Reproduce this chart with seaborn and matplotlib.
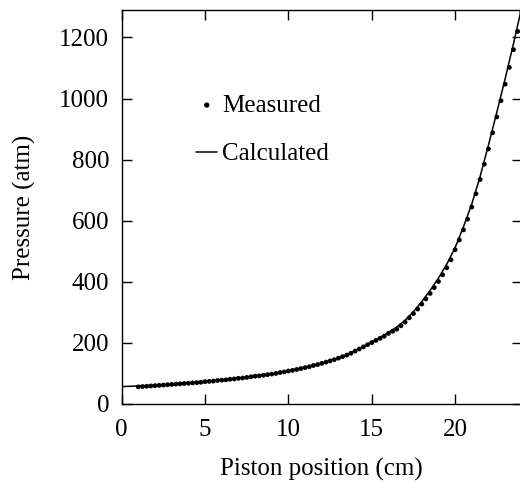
import numpy as np
import pandas as pd
import seaborn as sns
import matplotlib.pyplot as plt

sns.set_theme(style="ticks")
plt.rcParams['font.family'] = ['Liberation Serif', 'DejaVu Serif']
plt.rcParams['text.color'] = 'black'
plt.rcParams['axes.labelcolor'] = 'black'

# measured points (cm, atm), every 0.25 cm
meas_x = np.arange(1.0, 24.01, 0.25)
meas_p = [56, 57, 58, 59, 60, 61, 62, 63, 64, 65, 66, 67, 68, 69, 70, 71,
          73, 74, 75, 77, 78, 79, 81, 82, 84, 85, 87, 89, 91, 92, 94, 96,
          98, 100, 103, 105, 108, 110, 113, 116, 119, 122, 126, 129, 133, 137, 141, 145,
          150, 155, 160, 166, 173, 180, 187, 194, 201, 208, 215, 222, 231, 238, 245, 256,
          268, 282, 296, 311, 327, 344, 362, 381, 401, 423, 446, 472, 505, 537, 570, 605,
          645, 688, 735, 785, 835, 888, 940, 993, 1047, 1102, 1160, 1220, 1282]

# calculated curve, every 0.5 cm
calc_x = np.arange(0.0, 24.01, 0.5)
calc_p = [57, 58, 59, 60, 61, 63, 65, 67, 69, 71, 74, 76, 79, 82, 85, 88,
          92, 95, 99, 104, 109, 114, 120, 127, 134, 142, 151, 162, 174, 188, 203, 218,
          234, 252, 274, 302, 335, 372, 412, 458, 512, 580, 655, 745, 848, 955, 1065, 1180,
          1300]

meas = pd.DataFrame({'x': meas_x, 'p': meas_p})
calc = pd.DataFrame({'x': calc_x, 'p': calc_p})

fig = plt.figure(figsize=(5.2, 4.83), dpi=100)
ax = fig.add_axes([0.234, 0.1636, 0.7695, 0.8157])

sns.scatterplot(data=meas, x='x', y='p', ax=ax, color='black', s=12,
                edgecolor='none', label='Measured', zorder=3)
sns.lineplot(data=calc, x='x', y='p', ax=ax, color='black', linewidth=1.1,
             label='Calculated', zorder=2)

ax.set_xlim(0, 24)
ax.set_ylim(0, 1290)
ax.set_xticks([0, 5, 10, 15, 20])
ax.set_yticks([0, 200, 400, 600, 800, 1000, 1200])
ax.tick_params(direction='in', length=7, width=1.0, top=True, right=True,
               labelsize=18, colors='black')
ax.tick_params(axis='x', pad=11)
ax.tick_params(axis='y', pad=9)
for s in ax.spines.values():
    s.set_linewidth(1.0)
    s.set_color('black')

ax.set_xlabel('Piston position (cm)', fontsize=18, labelpad=12)
ax.set_ylabel('Pressure (atm)', fontsize=18, labelpad=17)

ax.legend(loc='center left', bbox_to_anchor=(0.186, 0.696), frameon=False,
          fontsize=18, handlelength=0.85, handletextpad=0.2, labelspacing=1.05,
          borderpad=0, borderaxespad=0, markerscale=1.1)

fig.savefig('out.png', dpi=100)
